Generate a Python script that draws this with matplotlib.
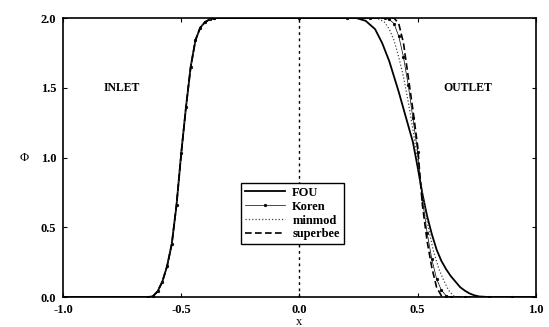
import matplotlib
matplotlib.use('Agg')
import matplotlib.pyplot as plt

# inlet front is the same for every scheme
inlet_x = [-1.0, -0.64, -0.62, -0.60, -0.58, -0.56, -0.54, -0.52, -0.50, -0.48, -0.46, -0.44, -0.42, -0.40, -0.38, -0.36]
inlet_phi = [0.0, 0.0, 0.005, 0.04, 0.11, 0.22, 0.38, 0.66, 1.03, 1.36, 1.65, 1.84, 1.93, 1.97, 1.99, 2.0]

fou_x = [0.20, 0.24, 0.28, 0.32, 0.35, 0.38, 0.40, 0.42, 0.44, 0.46, 0.48, 0.50, 0.52, 0.54, 0.56, 0.58,
         0.60, 0.62, 0.64, 0.66, 0.68, 0.70, 0.72, 0.74, 0.76, 0.80, 1.0]
fou_phi = [2.0, 2.0, 1.98, 1.92, 1.82, 1.69, 1.58, 1.47, 1.35, 1.23, 1.11, 0.93, 0.74, 0.58, 0.45, 0.34,
           0.26, 0.20, 0.15, 0.11, 0.07, 0.045, 0.025, 0.012, 0.004, 0.0, 0.0]

koren_x = [0.30, 0.36, 0.38, 0.40, 0.42, 0.44, 0.46, 0.48, 0.50, 0.52, 0.54, 0.56, 0.58, 0.60, 0.62, 0.64, 0.70, 0.80, 0.90, 1.0]
koren_phi = [2.0, 2.0, 1.99, 1.96, 1.87, 1.72, 1.52, 1.28, 1.04, 0.70, 0.46, 0.27, 0.13, 0.05, 0.01, 0.0, 0.0, 0.0, 0.0, 0.0]

minmod_x = [0.30, 0.32, 0.34, 0.36, 0.38, 0.40, 0.42, 0.44, 0.46, 0.48, 0.50, 0.52, 0.54, 0.565, 0.59, 0.61, 0.63, 0.65, 0.67, 1.0]
minmod_phi = [2.0, 2.0, 1.99, 1.97, 1.92, 1.84, 1.72, 1.58, 1.40, 1.20, 0.98, 0.75, 0.54, 0.34, 0.20, 0.12, 0.05, 0.01, 0.0, 0.0]

superbee_x = [0.30, 0.40, 0.42, 0.44, 0.46, 0.48, 0.50, 0.51, 0.52, 0.54, 0.56, 0.58, 0.60, 0.62, 1.0]
superbee_phi = [2.0, 2.0, 1.96, 1.82, 1.58, 1.34, 1.08, 0.86, 0.66, 0.40, 0.21, 0.07, 0.01, 0.0, 0.0]

plateau_x = [-0.36, 0.0, 0.20]
plateau_phi = [2.0, 2.0, 2.0]

ticks = [-1.0, -0.5, 0.0, 0.5, 1.0]
yticks = [0.0, 0.5, 1.0, 1.5, 2.0]


def profile(xs, ps):
    # inlet + flat top + outlet
    return inlet_x + plateau_x + xs, inlet_phi + plateau_phi + ps


plt.rcParams['font.family'] = ['Liberation Serif', 'DejaVu Serif']
plt.rcParams['font.weight'] = 'bold'

fig = plt.figure(figsize=(5.49, 3.27), dpi=100)
ax = fig.add_axes([0.1148, 0.0917, 0.8613, 0.8532])

x, p = profile(fou_x, fou_phi)
ax.plot(x, p, '-', color='black', lw=1.3, label='FOU')
x, p = profile(koren_x, koren_phi)
ax.plot(x, p, '-', color='black', lw=0.5, marker='o', ms=1.8, mfc='black', mec='black', mew=0.5, label='Koren')
x, p = profile(minmod_x, minmod_phi)
ax.plot(x, p, ':', color='#444444', lw=0.9, label='minmod')
x, p = profile(superbee_x, superbee_phi)
ax.plot(x, p, '--', color='black', lw=1.2, dashes=(4, 2), label='superbee')

ax.axvline(0.0, color='black', lw=1.0, ls=(0, (2, 2.5)))

ax.set_xlim(-1.0, 1.0)
ax.set_ylim(0.0, 2.0)
ax.set_xticks(ticks)
ax.set_yticks(yticks)
ax.set_xticklabels(['-1.0', '-0.5', '0.0', '0.5', '1.0'])
ax.set_yticklabels(['0.0', '0.5', '1.0', '1.5', '2.0'])
ax.tick_params(direction='in', length=3, width=0.8, top=True, right=True, labelsize=9)
ax.tick_params(axis='x', pad=5)
ax.tick_params(axis='y', pad=5)
for s in ax.spines.values():
    s.set_linewidth(1.2)

ax.set_xlabel('x', fontsize=9, labelpad=0)
ax.set_ylabel('Φ', fontsize=9, rotation=0, labelpad=12, va='center')

ax.text(-0.75, 1.5, 'INLET', fontsize=8.5, ha='center', va='center', fontweight='bold')
ax.text(0.71, 1.5, 'OUTLET', fontsize=8.5, ha='center', va='center', fontweight='bold')

leg = ax.legend(loc='upper left', bbox_to_anchor=(0.439, 0.44), bbox_transform=fig.transFigure,
                fancybox=False, framealpha=1, edgecolor='black', fontsize=9,
                handlelength=3.2, handletextpad=0.6, borderpad=0.3, labelspacing=0.15,
                borderaxespad=0, numpoints=1)
leg.get_frame().set_linewidth(1.0)

fig.savefig('out.png', dpi=100)
